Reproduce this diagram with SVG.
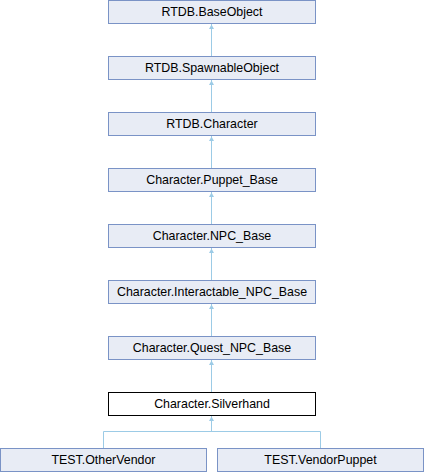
<svg xmlns="http://www.w3.org/2000/svg" width="424" height="472" viewBox="0 0 424 472">
<defs>
<style>
.n rect{fill:#e8ecf5;stroke:#7a93c6;stroke-width:1}
.n.cur rect{fill:#ffffff;stroke:#000000}
.n text{font-family:"Liberation Sans",Arial,sans-serif;font-size:12.4px;fill:#000;text-anchor:middle}
.e{fill:none;stroke:#9ccbe6;stroke-width:1}
.ah{fill:#9ccbe6;stroke:none}
</style>
</defs>
<rect width="424" height="472" fill="#ffffff"/>
<g id="edges">
<path class="e" d="M211.5,56.5 V24"/>
<path class="e" d="M211.5,112.5 V80"/>
<path class="e" d="M211.5,168.5 V136"/>
<path class="e" d="M211.5,224.5 V192"/>
<path class="e" d="M211.5,280.5 V248"/>
<path class="e" d="M211.5,336.5 V304"/>
<path class="e" d="M211.5,392.5 V360"/>
<path class="e" d="M103.5,448 V431.5 H320.5 V448 M211.5,431.5 V416"/>
<g class="ah">
<path d="M209,29 L214,29 L211.5,24.5 Z"/>
<path d="M209,85 L214,85 L211.5,80.5 Z"/>
<path d="M209,141 L214,141 L211.5,136.5 Z"/>
<path d="M209,197 L214,197 L211.5,192.5 Z"/>
<path d="M209,253 L214,253 L211.5,248.5 Z"/>
<path d="M209,309 L214,309 L211.5,304.5 Z"/>
<path d="M209,365 L214,365 L211.5,360.5 Z"/>
<path d="M209,421 L214,421 L211.5,416.5 Z"/>
</g>
</g>
<g id="n1" class="n"><rect x="108.5" y="0.5" width="207" height="23"/><text x="212" y="16">RTDB.BaseObject</text></g>
<g id="n2" class="n"><rect x="108.5" y="56.5" width="207" height="23"/><text x="212" y="72">RTDB.SpawnableObject</text></g>
<g id="n3" class="n"><rect x="108.5" y="112.5" width="207" height="23"/><text x="212" y="128">RTDB.Character</text></g>
<g id="n4" class="n"><rect x="108.5" y="168.5" width="207" height="23"/><text x="212" y="184">Character.Puppet_Base</text></g>
<g id="n5" class="n"><rect x="108.5" y="224.5" width="207" height="23"/><text x="212" y="240">Character.NPC_Base</text></g>
<g id="n6" class="n"><rect x="108.5" y="280.5" width="207" height="23"/><text x="212" y="296">Character.Interactable_NPC_Base</text></g>
<g id="n7" class="n"><rect x="108.5" y="336.5" width="207" height="23"/><text x="212" y="352">Character.Quest_NPC_Base</text></g>
<g id="n8" class="n cur"><rect x="108.5" y="392.5" width="207" height="23"/><text x="212" y="408">Character.Silverhand</text></g>
<g id="n9" class="n"><rect x="0.5" y="448.5" width="206" height="23"/><text x="103.5" y="464">TEST.OtherVendor</text></g>
<g id="n10" class="n"><rect x="217.5" y="448.5" width="206" height="23"/><text x="320.5" y="464">TEST.VendorPuppet</text></g>
</svg>
